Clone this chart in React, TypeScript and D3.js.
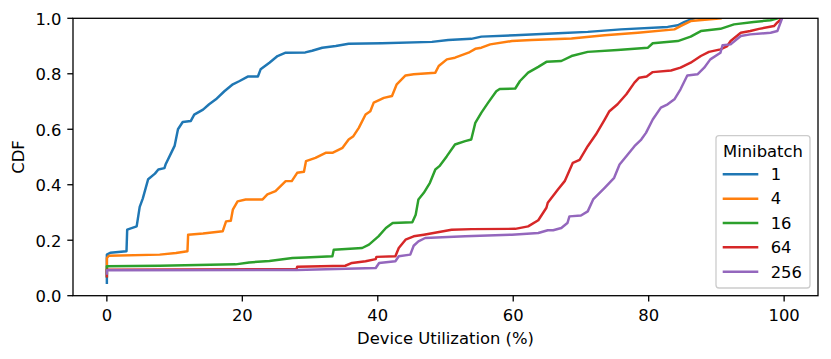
import * as d3 from 'd3';

// empirical CDF samples per minibatch size: [utilization %, cumulative fraction]
const mb1: [number, number][] = [
  [0, 0.047], [0, 0.148], [0.5, 0.155], [2.9, 0.16], [3.0, 0.238], [4.4, 0.25], [4.85, 0.32], [5.3, 0.35],
  [6.1, 0.42], [7.1, 0.44], [7.6, 0.455], [8.5, 0.46], [8.7, 0.475], [9.5, 0.515], [10, 0.54], [10.5, 0.6],
  [11.2, 0.626], [12.4, 0.63], [12.9, 0.653], [14.2, 0.671], [15.1, 0.69], [16.1, 0.708], [17.35, 0.737],
  [18.6, 0.762], [19.6, 0.774], [20.8, 0.79], [22.3, 0.79], [22.7, 0.816], [24, 0.84], [25.2, 0.864],
  [26.4, 0.876], [29.3, 0.877], [30.3, 0.883], [31.8, 0.894], [33.8, 0.9], [35.7, 0.908], [40.6, 0.91],
  [48, 0.915], [50.4, 0.922], [53.8, 0.926], [55.3, 0.934], [60.25, 0.939], [66.6, 0.946], [71, 0.951],
  [75.9, 0.96], [82.8, 0.969], [84.3, 0.975], [85.3, 0.987], [86.7, 1.0],
];

const mb4: [number, number][] = [
  [0, 0.082], [0, 0.136], [0.3, 0.144], [7.8, 0.148], [10.2, 0.154], [11.9, 0.16], [12, 0.22], [14.2, 0.224],
  [17.1, 0.232], [17.6, 0.268], [18.3, 0.27], [18.6, 0.31], [19.3, 0.34], [20.5, 0.347], [23, 0.347],
  [23.7, 0.365], [24.9, 0.377], [26.4, 0.413], [27.3, 0.413], [28.1, 0.443], [29.1, 0.447], [29.4, 0.485],
  [30.8, 0.497], [32.3, 0.515], [33.3, 0.515], [34.8, 0.533], [35.7, 0.563], [36.4, 0.575], [37.2, 0.605],
  [38.2, 0.653], [38.9, 0.665], [39.4, 0.696], [40.9, 0.713], [42.1, 0.72], [42.8, 0.762], [44.1, 0.794],
  [45.3, 0.798], [48.5, 0.804], [49, 0.828], [50.2, 0.852], [51.4, 0.858], [53.4, 0.876], [54.4, 0.89],
  [55.3, 0.894], [56.6, 0.906], [59.8, 0.918], [62.7, 0.922], [68.6, 0.927], [73.5, 0.939], [78.4, 0.948],
  [83.8, 0.96], [84.7, 0.972], [86.2, 0.99], [90.6, 1.0],
];

const mb16: [number, number][] = [
  [0, 0.07], [0, 0.106], [7.8, 0.108], [19, 0.113], [21, 0.12], [24, 0.125], [27.4, 0.136], [29.3, 0.138],
  [33.3, 0.142], [33.5, 0.166], [37.7, 0.172], [38.7, 0.184], [40.1, 0.214], [41.2, 0.244], [42.2, 0.262],
  [45.1, 0.265], [45.6, 0.292], [46, 0.347], [46.8, 0.371], [47.7, 0.407], [48.5, 0.455], [49.1, 0.467],
  [50.2, 0.503], [51.4, 0.545], [52.9, 0.557], [53.8, 0.563], [54.4, 0.623], [55.3, 0.66], [56.3, 0.696],
  [57.5, 0.737], [58, 0.745], [60.3, 0.747], [61, 0.774], [62.2, 0.804], [63.7, 0.825], [64.9, 0.843],
  [67.1, 0.846], [68.6, 0.864], [71, 0.879], [75.4, 0.886], [79.9, 0.894], [80.6, 0.91], [84.3, 0.918],
  [86.2, 0.934], [87.7, 0.954], [90.6, 0.962], [92.6, 0.978], [95.5, 0.987], [98, 0.993], [99, 1.0],
];

const mb64: [number, number][] = [
  [0, 0.07], [0, 0.094], [28, 0.096], [28.1, 0.104], [35.2, 0.108], [36.2, 0.118], [38.2, 0.124],
  [39.7, 0.132], [39.8, 0.14], [42.6, 0.142], [43.1, 0.172], [44.1, 0.202], [45.3, 0.214], [46.8, 0.22],
  [50.9, 0.238], [53.9, 0.24], [60.3, 0.241], [62.2, 0.25], [63.7, 0.272], [64.9, 0.317], [65.1, 0.335],
  [66.6, 0.383], [67.6, 0.413], [68.8, 0.479], [69.8, 0.49], [71, 0.539], [72.2, 0.581], [73.5, 0.635],
  [74.2, 0.665], [75.4, 0.69], [76.7, 0.726], [77.9, 0.768], [78.6, 0.786], [79.7, 0.79], [80.6, 0.806],
  [83.3, 0.812], [84.7, 0.822], [86.2, 0.84], [87.7, 0.864], [88.9, 0.879], [90.6, 0.888], [91.6, 0.9],
  [92.1, 0.918], [93.6, 0.948], [95, 0.954], [96.3, 0.962], [98.5, 0.972], [99, 0.985], [99.7, 1.0],
];

const mb256: [number, number][] = [
  [0, 0.08], [0, 0.092], [28, 0.093], [39.7, 0.1], [40.2, 0.118], [42.6, 0.124], [43.1, 0.142],
  [44.8, 0.148], [45.3, 0.18], [46, 0.196], [47, 0.208], [52.9, 0.214], [59.8, 0.22], [63.7, 0.226],
  [65.1, 0.236], [65.9, 0.236], [67.1, 0.244], [68, 0.262], [68.3, 0.286], [70, 0.289], [71, 0.304],
  [71.8, 0.347], [73.5, 0.389], [74.9, 0.425], [75.7, 0.473], [76.7, 0.503], [77.9, 0.539], [78.9, 0.563],
  [79.6, 0.587], [80.6, 0.635], [81.8, 0.678], [82.8, 0.69], [83.8, 0.708], [84.7, 0.744], [85.7, 0.794],
  [87.2, 0.798], [88.2, 0.822], [89.1, 0.852], [90.6, 0.876], [90.9, 0.903], [92.1, 0.906], [93.6, 0.936],
  [95, 0.942], [98, 0.948], [99, 0.954], [99.7, 1.0],
];

const seriesNames = ['1', '4', '16', '64', '256'];
const seriesData = [mb1, mb4, mb16, mb64, mb256];
const colors = ['#1f77b4', '#ff7f0e', '#2ca02c', '#d62728', '#9467bd'];
const xTicks = [0, 20, 40, 60, 80, 100];
const yTicks = [0, 0.2, 0.4, 0.6, 0.8, 1.0];

export default function App() {
  const width = 831;
  const height = 359;
  const margin = { top: 18.3, right: 13, bottom: 63.3, left: 73 };
  const fs = 16.4;
  const font = 'DejaVu Sans';

  const x = d3.scaleLinear().domain([-5, 105]).range([margin.left, width - margin.right]);
  const y = d3.scaleLinear().domain([0, 1]).range([height - margin.bottom, margin.top]);

  const line = d3.line<[number, number]>()
    .x(d => x(d[0]))
    .y(d => y(d[1]));

  const x0 = margin.left;
  const x1 = width - margin.right;
  const y0 = height - margin.bottom;
  const y1 = margin.top;

  // legend geometry
  const lg = { left: 716, top: 135.7, w: 94, h: 152.3 };
  const rowY = (i: number) => 174.3 + i * 24.35;

  return (
    <svg width={width} height={height} style={{ position: 'absolute', left: 0, top: 0 }}
      fontFamily={font} fontSize={fs}>
      <rect width={width} height={height} fill="#fff" />
      <defs>
        <clipPath id="plot-area">
          <rect x={x0} y={y1} width={x1 - x0} height={y0 - y1} />
        </clipPath>
      </defs>

      <g clipPath="url(#plot-area)">
        {seriesData.map((s, i) => (
          <path key={seriesNames[i]} d={line(s) ?? ''} fill="none" stroke={colors[i]}
            strokeWidth={2.46} strokeLinejoin="round" strokeLinecap="square" />
        ))}
      </g>

      {/* spines */}
      <rect x={x0} y={y1} width={x1 - x0} height={y0 - y1} fill="none" stroke="#000" strokeWidth={1.3} />

      {/* x axis */}
      {xTicks.map(t => (
        <g key={'x' + t}>
          <line x1={x(t)} x2={x(t)} y1={y0} y2={y0 + 5.7} stroke="#000" strokeWidth={1.3} />
          <text x={x(t)} y={320.7} textAnchor="middle" fill="#000">{t}</text>
        </g>
      ))}
      <text x={(x0 + x1) / 2} y={344} textAnchor="middle" fill="#000">Device Utilization (%)</text>

      {/* y axis */}
      {yTicks.map(t => (
        <g key={'y' + t}>
          <line x1={x0 - 5.7} x2={x0} y1={y(t)} y2={y(t)} stroke="#000" strokeWidth={1.3} />
          <text x={61.5} y={y(t) + 6.3} textAnchor="end" fill="#000">{t.toFixed(1)}</text>
        </g>
      ))}
      <text transform={`translate(24,${(y0 + y1) / 2}) rotate(-90)`} textAnchor="middle" fill="#000">CDF</text>

      {/* legend */}
      <rect x={lg.left} y={lg.top} width={lg.w} height={lg.h} rx={3} fill="#fff" fillOpacity={0.8}
        stroke="#cccccc" strokeWidth={1.3} />
      <text x={lg.left + lg.w / 2} y={156.7} textAnchor="middle" fill="#000">Minibatch</text>
      {seriesNames.map((n, i) => (
        <g key={'lg' + n}>
          <line x1={722.7} x2={758.3} y1={rowY(i)} y2={rowY(i)} stroke={colors[i]} strokeWidth={2.46} />
          <text x={770.7} y={rowY(i) + 5.8} fill="#000">{n}</text>
        </g>
      ))}
    </svg>
  );
}
